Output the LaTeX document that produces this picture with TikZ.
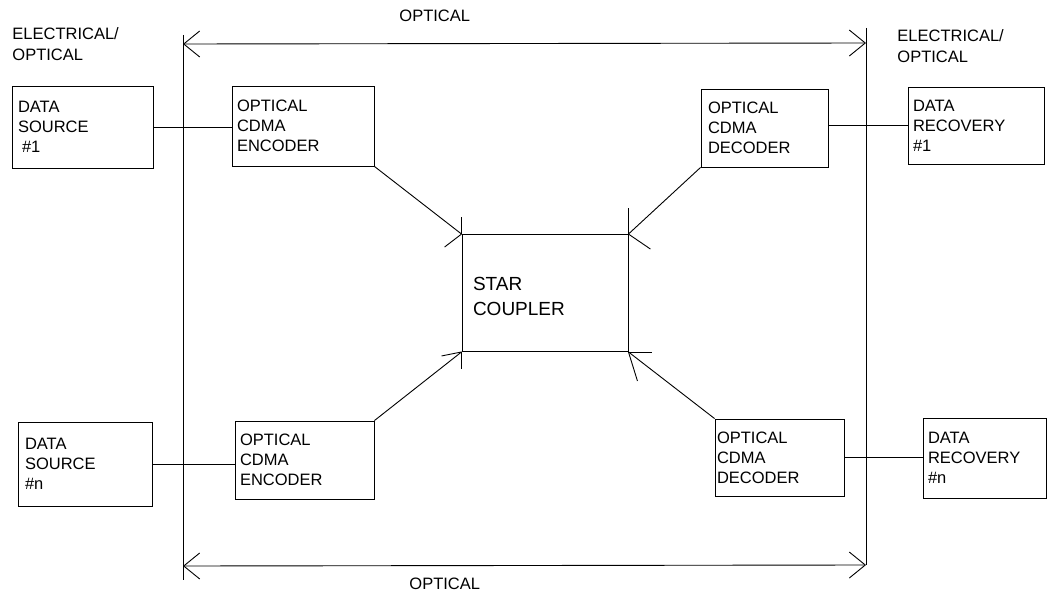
\documentclass[tikz,border=0pt]{standalone}
\usepackage{fontspec}
\setmainfont{Liberation Sans}
\usetikzlibrary{arrows.meta}
\begin{document}
\begin{tikzpicture}[x=1pt,y=-1pt,line width=0.9pt,
  blk/.style 2 args={draw, minimum width=#1, minimum height=#2, inner sep=0pt},
  lbl/.style={font=\fontsize{16.5}{20}\selectfont, align=left, inner sep=0pt, anchor=west},
  freetxt/.style={font=\fontsize{16.5}{21}\selectfont, align=left, inner sep=0pt, anchor=north west},
  bigtxt/.style={font=\fontsize{19}{25}\selectfont, align=left, inner sep=0pt, anchor=west},
  dbl/.style={{Straight Barb[length=16pt,width=26pt]}-{Straight Barb[length=16pt,width=26pt]}}]
\useasboundingbox (0,0) rectangle (1050,594);
% boundary lines
\coordinate (L1) at (183,35);  \coordinate (L2) at (183,580);
\coordinate (R1) at (866,28);  \coordinate (R2) at (866,565);
\coordinate (tl) at (183,44);  \coordinate (tr) at (866,43);
\coordinate (bl) at (183,566); \coordinate (br) at (866,565);
\draw (L1) -- (L2);
\draw (R1) -- (R2);
\draw[dbl] (tl) -- (tr);
\draw[dbl] (bl) -- (br);
% boxes
\node[blk={141pt}{82pt}] (ds1) at (82.5,127) {};
\node[blk={142pt}{80pt}] (enc1) at (303,126) {};
\node[blk={127pt}{78pt}] (dec1) at (764.5,128) {};
\node[blk={136pt}{77pt}] (dr1) at (976,125.5) {};
\node[blk={134pt}{84pt}] (dsn) at (85,464) {};
\node[blk={139pt}{78pt}] (encn) at (304.5,460) {};
\node[blk={129pt}{77pt}] (decn) at (779.5,457.5) {};
\node[blk={123pt}{80pt}] (drn) at (984.5,458) {};
\node[blk={166pt}{117pt}] (star) at (545,293) {};
% box texts
\node[lbl] (ds1t) at ([xshift=6pt]ds1.west) {DATA\\SOURCE\\\hspace{4pt}\#1};
\node[lbl] (enc1t) at ([xshift=5pt]enc1.west) {OPTICAL\\CDMA\\ENCODER};
\node[lbl] (dec1t) at ([xshift=7pt]dec1.west) {OPTICAL\\CDMA\\DECODER};
\node[lbl] (dr1t) at ([xshift=5pt]dr1.west) {DATA\\RECOVERY\\\#1};
\node[lbl] (dsnt) at ([xshift=7pt]dsn.west) {DATA\\SOURCE\\\#n};
\node[lbl] (encnt) at ([xshift=5pt]encn.west) {OPTICAL\\CDMA\\ENCODER};
\node[lbl] (decnt) at ([xshift=2pt]decn.west) {OPTICAL\\CDMA\\DECODER};
\node[lbl] (drnt) at ([xshift=5pt]drn.west) {DATA\\RECOVERY\\\#n};
\node[bigtxt] (start) at ([shift={(11,3.5)}]star.west) {STAR\\COUPLER};
% free labels
\node[freetxt] (eoL) at (12,27) {ELECTRICAL/\\OPTICAL};
\node[freetxt] (eoR) at (897,29) {ELECTRICAL/\\OPTICAL};
\node[freetxt] (optT) at (399,10) {OPTICAL};
\node[freetxt] (optB) at (409,578) {OPTICAL};
% connectors
\draw (ds1.east) -- (ds1.east -| enc1.west);
\draw (dr1.west -| dec1.east) -- (dr1.west);
\draw (dsn.east) -- (dsn.east -| encn.west);
\draw (decn.east) -- (decn.east -| drn.west);
\draw (enc1.south east) -- (star.north west);
\draw (dec1.south west) -- (star.north east);
\draw (encn.north east) -- (star.south west);
\draw (decn.north west) -- (star.south east);
% arrow barbs at the star coupler corners
\draw (star.north west) -- ++(0,-17);
\draw (star.north west) -- ++(-17,13);
\draw (star.north east) -- ++(0,-26);
\draw (star.north east) -- ++(22,15);
\draw (star.south west) -- ++(0,17);
\draw (star.south west) -- ++(-20,4);
\draw (star.south east) -- ++(24,0);
\draw (star.south east) -- ++(9,29);
\end{tikzpicture}
\end{document}
